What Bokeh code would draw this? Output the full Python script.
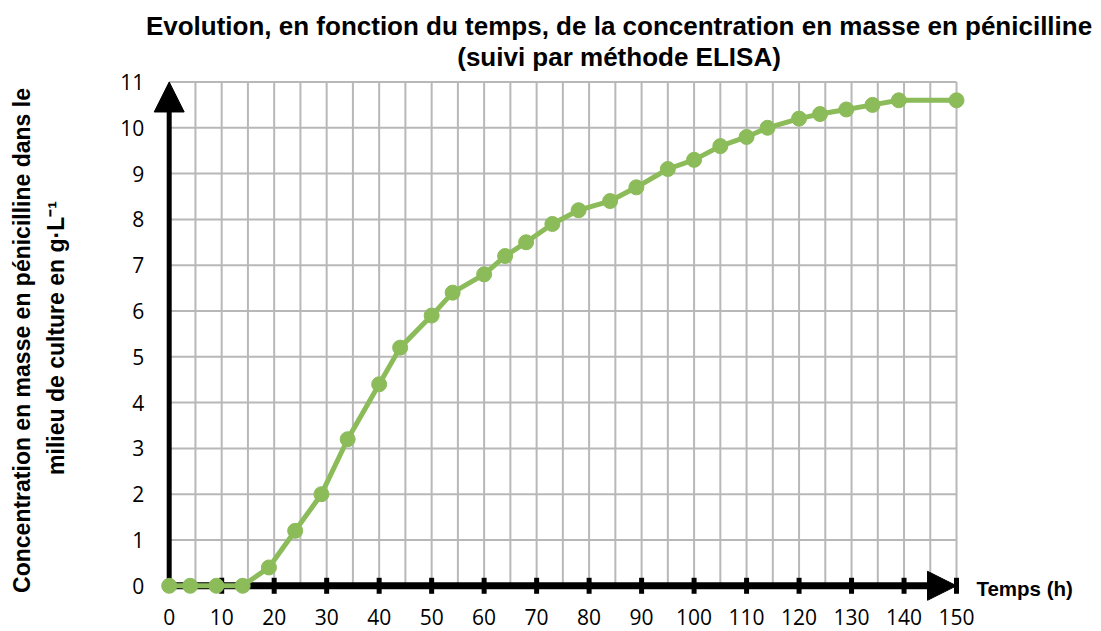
import math
from bokeh.plotting import figure
from bokeh.models import Range1d, FixedTicker, Arrow, NormalHead, Label
from bokeh.embed import file_html
from bokeh.resources import INLINE

# ---- data ----
time_h = [0, 4, 9, 14, 19, 24, 29, 34, 40, 44, 50, 54, 60, 64, 68, 73, 78, 84, 89,
          95, 100, 105, 110, 114, 120, 124, 129, 134, 139, 150]
conc = [0, 0, 0, 0, 0.4, 1.2, 2.0, 3.2, 4.4, 5.2, 5.9, 6.4, 6.8, 7.2, 7.5, 7.9, 8.2,
        8.4, 8.7, 9.1, 9.3, 9.6, 9.8, 10.0, 10.2, 10.3, 10.4, 10.5, 10.6, 10.6]

x_ticks = [0, 10, 20, 30, 40, 50, 60, 70, 80, 90, 100, 110, 120, 130, 140, 150]
y_ticks = [0, 1, 2, 3, 4, 5, 6, 7, 8, 9, 10, 11]
x_grid = [5, 10, 15, 20, 25, 30, 35, 40, 45, 50, 55, 60, 65, 70, 75, 80, 85, 90, 95,
          100, 105, 110, 115, 120, 125, 130, 135, 140, 145, 150]
y_grid = [1, 2, 3, 4, 5, 6, 7, 8, 9, 10, 11]

title_lines = ["Evolution, en fonction du temps, de la concentration en masse en pénicilline",
               "(suivi par méthode ELISA)"]
ylabel_lines = ["Concentration en masse en pénicilline dans le",
                "milieu de culture en g·L⁻¹"]
xlabel = "Temps (h)"

GREEN = "#8cbb5a"
GRID = "#b8b8b8"

x_min, x_max = 0, x_ticks[-1]
y_min, y_max = 0, y_ticks[-1]

p = figure(width=1101, height=631,
           x_range=Range1d(-32.14, 177.62), y_range=Range1d(-0.998, 12.779),
           output_backend="svg", toolbar_location=None,
           min_border_left=0, min_border_right=0, min_border_top=0, min_border_bottom=0)
p.title.text = ""
p.outline_line_color = None
p.background_fill_color = "white"
p.border_fill_color = "white"
p.xgrid.visible = False
p.ygrid.visible = False

# grid lines inside the 0..150 x 0..11 box
gv = p.segment(x0=x_grid, y0=[y_min] * len(x_grid), x1=x_grid, y1=[y_max] * len(x_grid),
               line_color=GRID, line_width=2)
gh = p.segment(x0=[x_min] * len(y_grid), y0=y_grid, x1=[x_max] * len(y_grid), y1=y_grid,
               line_color=GRID, line_width=2)
gv.level = "image"
gh.level = "image"

# axis arrows
y_arrow = Arrow(start=None, end=NormalHead(size=30, fill_color="black", line_color="black"),
                x_start=x_min, y_start=y_min, x_end=x_min, y_end=y_max,
                line_width=5, line_color="black", level="underlay")
x_arrow = Arrow(start=None, end=NormalHead(size=29, fill_color="black", line_color="black"),
                x_start=x_min, y_start=y_min, x_end=x_max, y_end=y_min,
                line_width=7, line_color="black", level="underlay")
p.add_layout(y_arrow)
p.add_layout(x_arrow)

# tick marks crossing the x axis
p.scatter(x=x_ticks[1:], y=[y_min] * (len(x_ticks) - 1), marker="dash",
          angle=math.pi / 2, size=16, line_width=5, line_color="black")

# data series
p.line(time_h, conc, line_color=GREEN, line_width=5)
p.scatter(time_h, conc, size=15, fill_color=GREEN, line_color=GREEN)

# axes (tick labels only) fixed at the origin
xa = p.xaxis[0]
xa.fixed_location = 0
xa.ticker = FixedTicker(ticks=x_ticks)
xa.axis_line_color = None
xa.major_tick_line_color = None
xa.minor_tick_line_color = None
xa.major_tick_in = 0
xa.major_tick_out = 0
xa.major_label_standoff = 23
xa.major_label_text_font = "Open Sans"
xa.major_label_text_font_size = "21px"
xa.major_label_text_color = "black"

ya = p.yaxis[0]
ya.fixed_location = 0
ya.ticker = FixedTicker(ticks=y_ticks)
ya.axis_line_color = None
ya.major_tick_line_color = None
ya.minor_tick_line_color = None
ya.major_tick_in = 0
ya.major_tick_out = 0
ya.major_label_standoff = 25
ya.major_label_text_font = "Open Sans"
ya.major_label_text_font_size = "21px"
ya.major_label_text_color = "black"

# title
p.add_layout(Label(x=85.7, y=12.228, text=title_lines[0], text_align="center",
                   text_baseline="alphabetic", text_font="Liberation Sans",
                   text_font_style="bold", text_font_size="26px", text_color="black"))
p.add_layout(Label(x=85.7, y=11.546, text=title_lines[1], text_align="center",
                   text_baseline="alphabetic", text_font="Liberation Sans",
                   text_font_style="bold", text_font_size="26px", text_color="black"))

# y axis title (two lines, rotated)
p.add_layout(Label(x=-27.95, y=5.356, text=ylabel_lines[0], angle=math.pi / 2,
                   text_align="center", text_baseline="alphabetic",
                   text_font="Liberation Sans", text_font_style="bold",
                   text_font_size="23px", text_color="black"))
p.add_layout(Label(x=-21.6, y=5.41, text=ylabel_lines[1], angle=math.pi / 2,
                   text_align="center", text_baseline="alphabetic",
                   text_font="Liberation Sans", text_font_style="bold",
                   text_font_size="23px", text_color="black"))

# x axis title
p.add_layout(Label(x=153.8, y=-0.059, text=xlabel, text_align="left",
                   text_baseline="alphabetic", text_font="Liberation Sans",
                   text_font_style="bold", text_font_size="20.5px", text_color="black"))

open("out.html", "w").write(file_html(p, INLINE))
